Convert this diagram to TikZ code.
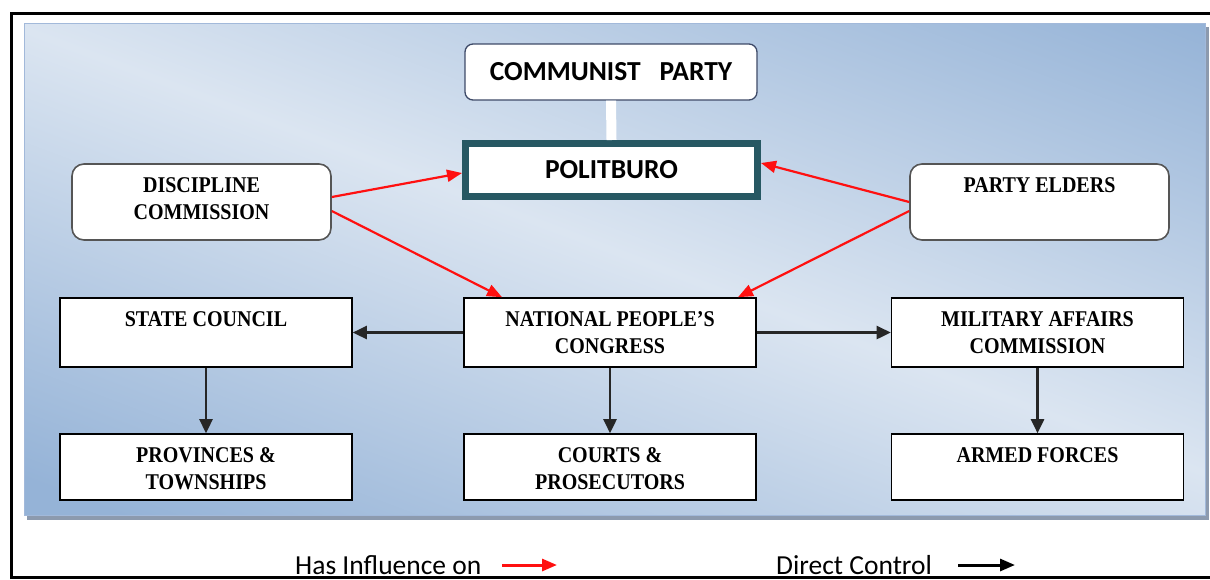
\documentclass[tikz,border=0pt]{standalone}
\usepackage{fontspec}
\setmainfont{Liberation Serif}
\newfontfamily\boxfont[FakeStretch=0.89]{Liberation Serif}
\newfontfamily\calfont{Carlito}
\usetikzlibrary{arrows.meta,calc}
\definecolor{panelDark}{HTML}{95B3D7}
\definecolor{panelLight}{HTML}{DBE5F1}
\definecolor{panelEdge}{HTML}{A2B9DA}
\definecolor{panelShadow}{HTML}{8C9AAE}
\definecolor{politEdge}{HTML}{275863}
\definecolor{cpEdge}{HTML}{3E4A68}
\definecolor{roundEdge}{HTML}{555555}
\definecolor{inflRed}{HTML}{FF1010}
\definecolor{ctrlBlack}{HTML}{262626}
\pgfdeclareverticalshading{panelshade}{100bp}{color(0bp)=(panelDark); color(35bp)=(panelDark); color(50bp)=(panelLight); color(65bp)=(panelDark); color(100bp)=(panelDark)}
\begin{document}
\begin{tikzpicture}[x=1pt,y=-1pt,
  boxtxt/.style={font=\boxfont\bfseries\fontsize{22.5}{26.5}\selectfont},
  sqbox/.style={draw=black, line width=1.6pt, fill=white, minimum width=292pt, inner sep=0pt},
  rbox/.style={draw=roundEdge, line width=1.6pt, fill=white, rounded corners=12pt, minimum width=259pt, minimum height=76pt, inner sep=0pt},
  intext/.style={boxtxt, anchor=north, yshift=-11pt, inner sep=0pt, align=center},
  infl/.style={draw=inflRed, line width=2.2pt, -{Triangle[length=15pt,width=12pt]}},
  ctrl/.style={draw=ctrlBlack, line width=2.6pt, -{Triangle[length=14pt,width=13pt]}},
  legtext/.style={font=\calfont\fontsize{27.5}{30}\selectfont, anchor=base west, inner sep=0pt}
]
\useasboundingbox (0,0) rectangle (1210,579);
% outer frame
\draw[line width=3pt] (1215,13.5) -- (11.5,13.5) -- (11.5,577.3) -- (1215,577.3);
% panel
\fill[panelShadow] (27,27) rectangle (1208.5,519.5);
\begin{scope}
  \clip (24,23) rectangle (1205,515);
  \shade[shading=panelshade, shading angle=-20.6] (-85.5,-449) rectangle (1314.5,951);
\end{scope}
\draw[panelEdge, line width=1pt] (24,23) rectangle (1205,515);

% nodes
\node[draw=cpEdge, line width=1.3pt, fill=white, rounded corners=8pt, minimum width=292pt, minimum height=56pt, inner sep=0pt,
      font=\calfont\bfseries\fontsize{27.5}{30}\selectfont] (cp) at (611,72) {\raisebox{-2.5pt}{COMMUNIST\hspace{19pt}PARTY}};
\node[draw=politEdge, line width=7pt, fill=white, minimum width=292pt, minimum height=53pt, inner sep=0pt,
      font=\calfont\bfseries\fontsize{27.5}{30}\selectfont] (polit) at (611.5,170) {\raisebox{-4pt}{POLITBURO}};
\draw[white, line width=10pt] (cp.south) -- (polit.north);

\node[rbox, label={[intext]north:\strut DISCIPLINE\\COMMISSION}] (disc) at (201.5,202) {};
\node[rbox, label={[intext]north:\strut PARTY ELDERS}] (pe) at (1039.5,202) {};

\node[sqbox, minimum height=69pt, label={[intext]north:\strut STATE COUNCIL}] (sc) at (206,332.5) {};
\node[sqbox, minimum height=69pt, label={[intext]north:\strut NATIONAL PEOPLE’S\\CONGRESS}] (npc) at (610,332.5) {};
\node[sqbox, minimum height=69pt, label={[intext]north:\strut MILITARY AFFAIRS\\COMMISSION}] (mac) at (1037.5,332.5) {};
\node[sqbox, minimum height=66pt, label={[intext]north:\strut PROVINCES \&\\TOWNSHIPS}] (prov) at (206,467) {};
\node[sqbox, minimum height=66pt, label={[intext]north:\strut COURTS \&\\PROSECUTORS}] (courts) at (610,467) {};
\node[sqbox, minimum height=66pt, label={[intext]north:\strut ARMED FORCES}] (armed) at (1037.5,467) {};

% influence
\draw[infl] ([yshift=5pt]disc.east) -- ([yshift=-3pt]polit.west);
\draw[infl] ([yshift=-9pt]disc.east) -- ([xshift=-108pt]npc.north);
\draw[infl] (pe.west) -- ([yshift=7pt]polit.east);
\draw[infl] ([yshift=-9pt]pe.west) -- ([xshift=128pt]npc.north);

% control
\draw[ctrl] (npc.west) -- (sc.east);
\draw[ctrl] (npc.east) -- (mac.west);
\draw[ctrl] (sc.south) -- (prov.north);
\draw[ctrl] (npc.south) -- (courts.north);
\draw[ctrl] (mac.south) -- (armed.north);

% legend
\node[legtext] (leg1) at (295,574) {Has Influence on};
\coordinate (r1) at (502,565);
\coordinate (r2) at (557,565);
\draw[draw=inflRed, line width=3pt, -{Triangle[length=15pt,width=12pt]}] (r1) -- (r2);
\node[legtext] (leg2) at (776,574) {Direct Control};
\coordinate (b1) at (958,565);
\coordinate (b2) at (1015,565);
\draw[draw=black, line width=3pt, -{Triangle[length=15pt,width=12pt]}] (b1) -- (b2);
\end{tikzpicture}
\end{document}
